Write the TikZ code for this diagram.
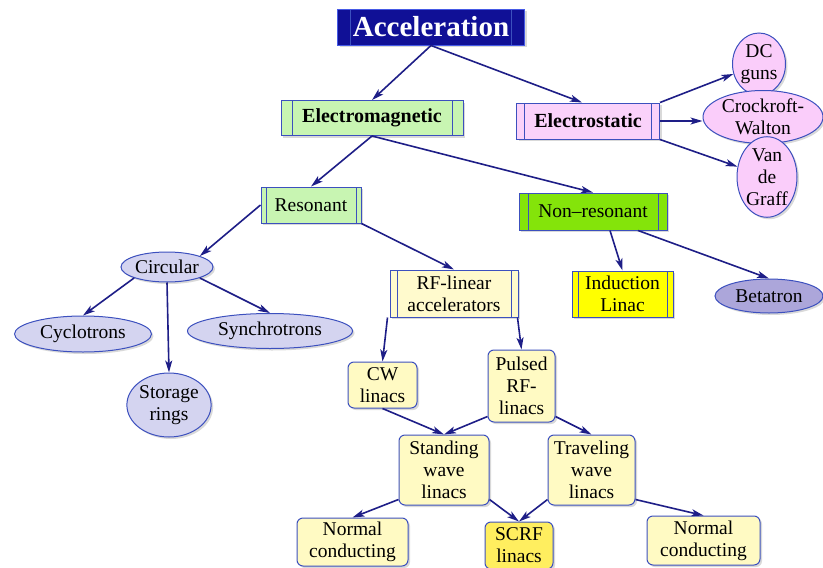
\documentclass[tikz,border=0pt]{standalone}
\usepackage{fontspec}
\setmainfont{Liberation Serif}
\usetikzlibrary{arrows.meta,shapes.geometric,shadows}
\definecolor{accfill}{RGB}{16,16,150}
\definecolor{accline}{RGB}{70,90,230}
\definecolor{boxline}{RGB}{60,80,190}
\definecolor{emfill}{RGB}{200,245,178}
\definecolor{esfill}{RGB}{250,210,250}
\definecolor{nrfill}{RGB}{132,228,10}
\definecolor{rffill}{RGB}{255,250,205}
\definecolor{indfill}{RGB}{255,255,0}
\definecolor{ylfill}{RGB}{255,250,195}
\definecolor{scrffill}{RGB}{255,238,95}
\definecolor{elfill}{RGB}{212,212,240}
\definecolor{betfill}{RGB}{172,166,218}
\definecolor{pkfill}{RGB}{250,205,250}
\definecolor{arrowcol}{RGB}{30,30,135}
\tikzset{
  txt/.style={font=\fontsize{19.5}{22}\selectfont, align=center, inner sep=0pt, text=black},
  shad/.style={drop shadow={shadow xshift=2pt, shadow yshift=-2pt, opacity=0.3}},
  proc/.style={txt, shad, draw=boxline, line width=1pt,
    path picture={\draw[boxline, line width=1pt]
      ([xshift=#1]path picture bounding box.north west) -- ([xshift=#1]path picture bounding box.south west)
      ([xshift=-#1]path picture bounding box.north east) -- ([xshift=-#1]path picture bounding box.south east);}},
  proc/.default=6pt,
  rbox/.style={txt, shad, draw=boxline, line width=1pt, rounded corners=6pt, fill=ylfill},
  oval/.style={txt, shad, ellipse, draw=boxline, line width=1pt, inner sep=0pt},
  conn/.style={draw=arrowcol, line width=1.6pt, -{Stealth[length=12pt,width=7pt,inset=3pt]}},
}
\begin{document}
\begin{tikzpicture}[x=1pt,y=-1pt]
\useasboundingbox (0,0) rectangle (823,568);
% top
\node[proc=13pt, fill=accfill, draw=accline, minimum width=187pt, minimum height=36pt,
  font=\fontsize{29}{30}\selectfont\bfseries, text=white] (acc) at (431,27) {Acceleration};
\node[proc=11pt, fill=emfill, minimum width=182pt, minimum height=35pt,
  font=\fontsize{20}{22}\selectfont\bfseries] (em) at (372,118) {Electromagnetic};
\node[proc=8pt, fill=esfill, minimum width=143pt, minimum height=36pt,
  font=\fontsize{20}{22}\selectfont\bfseries] (es) at (588,121) {Electrostatic};
% electrostatic children
\node[oval, fill=pkfill, minimum width=53pt, minimum height=62pt] (dc) at (759,64) {DC\\guns};
\node[oval, fill=pkfill, minimum width=120pt, minimum height=53pt] (cwt) at (763,117) {Crockroft-\\Walton};
\node[oval, fill=pkfill, minimum width=60pt, minimum height=80pt] (vdg) at (767,177) {Van\\de\\Graff};
% second level
\node[proc=5pt, fill=emfill, minimum width=100pt, minimum height=36pt] (res) at (311,205) {Resonant};
\node[proc=9pt, fill=nrfill, minimum width=148pt, minimum height=37pt] (nr) at (593,211.5) {Non–resonant};
% circular
\node[oval, fill=elfill, minimum width=92pt, minimum height=30pt] (circ) at (167,267) {Circular};
\node[oval, fill=elfill, minimum width=137pt, minimum height=36pt] (cyc) at (83,334) {Cyclotrons};
\node[oval, fill=elfill, minimum width=165pt, minimum height=35pt] (syn) at (270,331) {Synchrotrons};
\node[oval, fill=elfill, minimum width=78pt, minimum height=64pt] (stor) at (169,405) {Storage\\rings};
% linear
\node[proc=7pt, fill=rffill, minimum width=128pt, minimum height=47pt] (rf) at (454,293.5) {RF-linear\\accelerators};
\node[proc=6pt, fill=indfill, minimum width=101pt, minimum height=46pt] (ind) at (622.5,294) {Induction\\Linac};
\node[oval, fill=betfill, minimum width=108pt, minimum height=34pt] (bet) at (769,296) {Betatron};
\node[rbox, minimum width=69pt, minimum height=46pt] (cwl) at (382.5,385) {CW\\linacs};
\node[rbox, minimum width=67pt, minimum height=72pt] (pul) at (521.5,386) {Pulsed\\RF-\\linacs};
\node[rbox, minimum width=90pt, minimum height=70pt] (sw) at (444,470) {Standing\\wave\\linacs};
\node[rbox, minimum width=87pt, minimum height=70pt] (tw) at (591.5,470) {Traveling\\wave\\linacs};
\node[rbox, minimum width=111pt, minimum height=48pt] (nl) at (352.5,542) {Normal\\conducting};
\node[rbox, fill=scrffill, minimum width=68pt, minimum height=47pt] (scrf) at (519,545.5) {SCRF\\linacs};
\node[rbox, minimum width=113pt, minimum height=49pt] (nrc) at (703.5,540.5) {Normal\\conducting};
% connectors
\draw[conn] (acc.south) -- (em.north);
\draw[conn] (acc.south) -- ([xshift=-6pt]es.north);
\draw[conn] (es.north east) -- (dc);
\draw[conn] (es.east) -- (es.east -| cwt.west);
\draw[conn] (es.south east) -- (vdg);
\draw[conn] (em.south) -- (res.north);
\draw[conn] (em.south) -- (nr.north);
\draw[conn] (res.west) -- (circ.north east);
\draw[conn] (res.south east) -- (rf.north);
\draw[conn] ([xshift=17pt]nr.south) -- (ind.north);
\draw[conn] ([xshift=45pt]nr.south) -- (bet.north);
\draw[conn] (circ.south west) -- (cyc.north);
\draw[conn] (circ.south) -- (stor.north);
\draw[conn] (circ.south east) -- (syn.north);
\draw[conn] ([xshift=-2pt]rf.south west) -- (cwl.north);
\draw[conn] ([xshift=-1pt]rf.south east) -- (pul.north);
\draw[conn] (cwl.south) -- (sw.north);
\draw[conn] ([yshift=6pt]pul.south west) -- (sw.north);
\draw[conn] ([yshift=6pt]pul.south east) -- (tw.north);
\draw[conn] ([yshift=6pt]sw.south west) -- (nl.north);
\draw[conn] ([yshift=6pt]sw.south east) -- (scrf.north);
\draw[conn] ([yshift=6pt]tw.south west) -- (scrf.north);
\draw[conn] ([yshift=6pt]tw.south east) -- (nrc.north);
\end{tikzpicture}
\end{document}
